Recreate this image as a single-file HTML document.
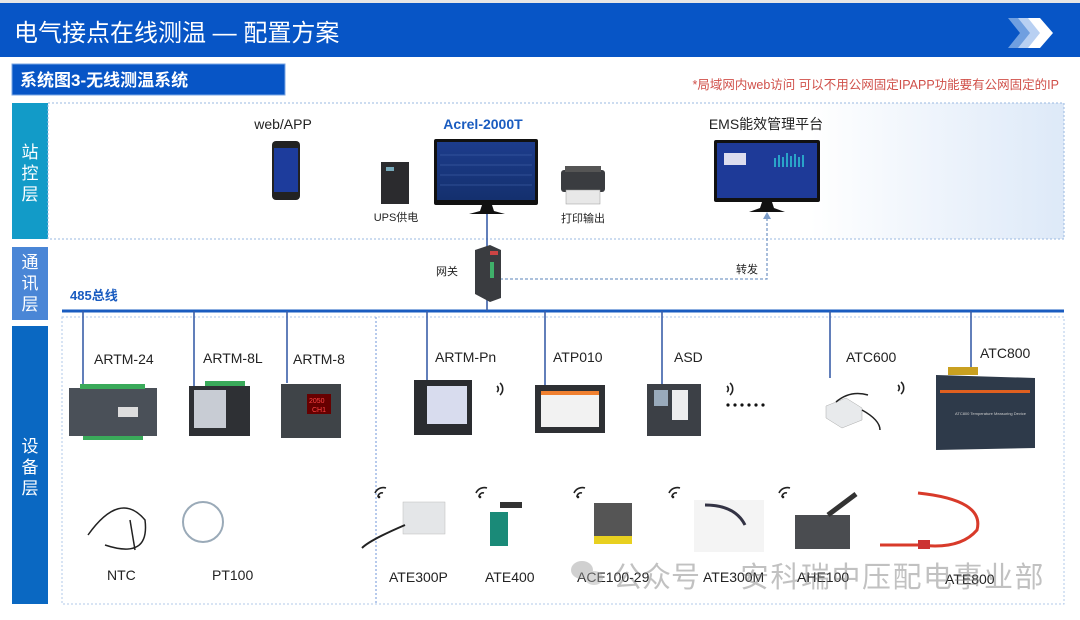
<!DOCTYPE html>
<html><head><meta charset="utf-8"><style>
html,body{margin:0;padding:0;background:#fff;}
svg{display:block;font-family:"Liberation Sans","Noto Sans CJK SC",sans-serif;}
</style></head><body>
<svg width="1080" height="620" viewBox="0 0 1080 620" xmlns="http://www.w3.org/2000/svg">
<defs>
<linearGradient id="g1" x1="0" x2="1" y1="0" y2="0"><stop offset="0.75" stop-color="#fff"/><stop offset="1" stop-color="#dde9f8"/></linearGradient>
<linearGradient id="scr" x1="0" x2="0" y1="0" y2="1"><stop offset="0" stop-color="#1d3c8c"/><stop offset="1" stop-color="#14306e"/></linearGradient>
</defs>
<rect x="0" y="0" width="1080" height="620" fill="#fff"/>
<rect x="0" y="0" width="1080" height="3" fill="#e6e6e6"/>
<!-- title -->
<rect x="0" y="3" width="1080" height="54" fill="#0755c6"/>
<text x="14" y="41" font-size="24" fill="#fff">电气接点在线测温 — 配置方案</text>
<polygon points="1008,18 1020,18 1032,33 1020,48 1008,48 1020,33" fill="#6f9fe0"/>
<polygon points="1018,18 1030,18 1042,33 1030,48 1018,48 1030,33" fill="#b8d0f2"/>
<polygon points="1028,18 1040,18 1053,33 1040,48 1028,48 1040,33" fill="#fff"/>
<!-- subheader -->
<rect x="12" y="64" width="273" height="31" fill="#0755c6" stroke="#7aa6e4" stroke-width="1"/>
<text x="20" y="86" font-size="17" font-weight="bold" fill="#fff">系统图3-无线测温系统</text>
<text x="1059" y="89" font-size="12.5" fill="#d0504a" text-anchor="end">*局域网内web访问 可以不用公网固定IPAPP功能要有公网固定的IP</text>
<!-- layer labels -->
<rect x="12" y="103" width="36" height="136" fill="#129bc8"/>
<rect x="12" y="247" width="36" height="73" fill="#4a86d6"/>
<rect x="12" y="326" width="36" height="278" fill="#0a68c2"/>
<g font-size="17" fill="#fff" text-anchor="middle">
<text x="30" y="158">站</text><text x="30" y="179">控</text><text x="30" y="200">层</text>
<text x="30" y="268">通</text><text x="30" y="289">讯</text><text x="30" y="310">层</text>
<text x="30" y="452">设</text><text x="30" y="473">备</text><text x="30" y="494">层</text>
</g>
<!-- top region -->
<rect x="48" y="103" width="1016" height="136" fill="url(#g1)" stroke="#9ab8e0" stroke-dasharray="2,2"/>
<!-- device region -->
<rect x="62" y="317" width="1002" height="287" fill="none" stroke="#b0c8ea" stroke-dasharray="2,2"/>
<line x1="376" y1="317" x2="376" y2="604" stroke="#6f96d8" stroke-dasharray="2,2"/>
<!-- bus -->
<line x1="62" y1="311" x2="1064" y2="311" stroke="#1a5cc0" stroke-width="3"/>
<g stroke="#3a5fa8" stroke-width="1.6">
<line x1="83" y1="311" x2="83" y2="386"/>
<line x1="194" y1="311" x2="194" y2="386"/>
<line x1="287" y1="311" x2="287" y2="383"/>
<line x1="427" y1="311" x2="427" y2="383"/>
<line x1="545" y1="311" x2="545" y2="385"/>
<line x1="662" y1="311" x2="662" y2="384"/>
<line x1="830" y1="311" x2="830" y2="378"/>
<line x1="971" y1="311" x2="971" y2="372"/>
<line x1="487" y1="212" x2="487" y2="311"/>
</g>
<!-- dashed forward -->
<polyline points="500,279 767,279 767,216" fill="none" stroke="#7b9cc8" stroke-width="1.3" stroke-dasharray="3,2"/>
<polygon points="767,212 763,219 771,219" fill="#7b9cc8"/>
<!-- top labels -->
<text x="283" y="129" font-size="14" fill="#222" text-anchor="middle">web/APP</text>
<text x="483" y="129" font-size="14" font-weight="bold" fill="#1a5cc0" text-anchor="middle">Acrel-2000T</text>
<text x="766" y="129" font-size="14" fill="#222" text-anchor="middle">EMS能效管理平台</text>
<text x="396" y="221" font-size="11" fill="#222" text-anchor="middle">UPS供电</text>
<text x="583" y="222" font-size="11" fill="#222" text-anchor="middle">打印输出</text>
<text x="447" y="275" font-size="11" fill="#222" text-anchor="middle">网关</text>
<text x="747" y="273" font-size="11" fill="#222" text-anchor="middle">转发</text>
<text x="70" y="300" font-size="13" font-weight="bold" fill="#1a5cc0">485总线</text>
<!-- phone -->
<rect x="272" y="141" width="28" height="59" rx="4" fill="#222"/>
<rect x="274" y="148" width="24" height="44" fill="#1d3c9c"/>
<!-- UPS -->
<rect x="381" y="162" width="28" height="42" fill="#2b2b2e"/>
<rect x="386" y="167" width="8" height="4" fill="#7ab"/>
<!-- monitor1 -->
<rect x="434" y="139" width="104" height="66" rx="2" fill="#111"/>
<rect x="437" y="142" width="98" height="58" fill="url(#scr)"/>
<g stroke="#4a6ab0" stroke-width="0.6"><line x1="440" y1="155" x2="532" y2="155"/><line x1="440" y1="165" x2="532" y2="165"/><line x1="440" y1="175" x2="532" y2="175"/><line x1="440" y1="185" x2="532" y2="185"/></g>
<path d="M482 205 L492 205 L494 211 L505 214 L469 214 L480 211 Z" fill="#111"/>
<!-- printer -->
<rect x="561" y="170" width="44" height="22" rx="3" fill="#3a3c40"/>
<rect x="565" y="166" width="36" height="6" fill="#555"/>
<rect x="566" y="190" width="34" height="14" fill="#e8e8e8" stroke="#999" stroke-width="0.5"/>
<!-- monitor2 -->
<rect x="714" y="140" width="106" height="62" rx="2" fill="#111"/>
<rect x="717" y="143" width="100" height="55" fill="#1e3a98"/>
<rect x="724" y="153" width="22" height="12" fill="#dde"/>
<g fill="#2aa4c8"><rect x="774" y="158" width="2" height="9"/><rect x="778" y="155" width="2" height="12"/><rect x="782" y="157" width="2" height="10"/><rect x="786" y="153" width="2" height="14"/><rect x="790" y="156" width="2" height="11"/><rect x="794" y="154" width="2" height="13"/><rect x="798" y="157" width="2" height="10"/><rect x="802" y="155" width="2" height="12"/></g>
<path d="M762 202 L772 202 L774 208 L785 212 L749 212 L760 208 Z" fill="#111"/>
<!-- gateway -->
<polygon points="475,250 490,245 501,250 501,298 490,302 475,294" fill="#3a3c40"/>
<rect x="490" y="262" width="4" height="16" fill="#3fb06a"/>
<rect x="490" y="251" width="8" height="4" fill="#c44"/>
<!-- row1 labels -->
<g font-size="14" fill="#222">
<text x="94" y="364">ARTM-24</text><text x="203" y="363">ARTM-8L</text><text x="293" y="364">ARTM-8</text>
<text x="435" y="362">ARTM-Pn</text><text x="553" y="362">ATP010</text><text x="674" y="362">ASD</text>
<text x="846" y="362">ATC600</text><text x="980" y="358">ATC800</text>
</g>
<!-- row1 devices -->
<rect x="69" y="388" width="88" height="48" fill="#4a5058"/><rect x="80" y="384" width="65" height="5" fill="#3aaa5a"/><rect x="83" y="436" width="60" height="4" fill="#3aaa5a"/><rect x="118" y="407" width="20" height="10" fill="#ddd"/>
<rect x="189" y="386" width="61" height="50" fill="#2e3034"/><rect x="194" y="390" width="32" height="38" fill="#c8ccd4"/><rect x="205" y="381" width="40" height="5" fill="#3aaa5a"/>
<rect x="281" y="384" width="60" height="54" fill="#3f4448"/><rect x="307" y="394" width="24" height="20" fill="#600"/><text x="309" y="403" font-size="7" fill="#f44">2050</text><text x="312" y="412" font-size="7" fill="#f44">CH1</text>
<rect x="414" y="380" width="58" height="55" fill="#2a2c30"/><rect x="427" y="386" width="40" height="38" fill="#d8dcee"/>
<rect x="535" y="385" width="70" height="48" fill="#2e3034"/><rect x="541" y="391" width="58" height="36" fill="#f2f2f2"/><rect x="541" y="391" width="58" height="4" fill="#f08030"/>
<rect x="647" y="384" width="54" height="52" fill="#3c4046"/><rect x="654" y="390" width="14" height="16" fill="#9ab"/><rect x="672" y="390" width="16" height="30" fill="#eee"/>
<g fill="#111"><circle cx="728" cy="405" r="1.6"/><circle cx="735" cy="405" r="1.6"/><circle cx="742" cy="405" r="1.6"/><circle cx="749" cy="405" r="1.6"/><circle cx="756" cy="405" r="1.6"/><circle cx="763" cy="405" r="1.6"/></g>
<polygon points="826,406 846,398 862,408 862,420 842,428 826,418" fill="#e8eaec" stroke="#aaa" stroke-width="0.5"/>
<path d="M836 402 Q850 390 868 395 M862 410 Q880 420 880 430" stroke="#222" fill="none" stroke-width="1.5"/>
<polygon points="936,375 1035,378 1035,448 936,450" fill="#2e3a4a"/><rect x="948" y="367" width="30" height="8" fill="#c9a020"/><rect x="940" y="390" width="90" height="3" fill="#e06020"/>
<text x="955" y="415" font-size="4" fill="#ccc">ATC800 Temperature Measuring Device</text>
<!-- wifi symbols -->
<g fill="none" stroke="#222" stroke-width="1.6">
<path d="M497 386 a4 4 0 0 1 0 6 M500 383 a8 8 0 0 1 0 12"/>
<path d="M727 386 a4 4 0 0 1 0 6 M730 383 a8 8 0 0 1 0 12"/>
<path d="M898 385 a4 4 0 0 1 0 6 M901 382 a8 8 0 0 1 0 12"/>
</g>
<g fill="none" stroke="#222" stroke-width="1.6">
<path d="M378 497 a4 4 0 0 1 5 -4 M375 493 a9 9 0 0 1 11 -5"/>
<path d="M479 497 a4 4 0 0 1 5 -4 M476 493 a9 9 0 0 1 11 -5"/>
<path d="M577 497 a4 4 0 0 1 5 -4 M574 493 a9 9 0 0 1 11 -5"/>
<path d="M672 497 a4 4 0 0 1 5 -4 M669 493 a9 9 0 0 1 11 -5"/>
<path d="M782 497 a4 4 0 0 1 5 -4 M779 493 a9 9 0 0 1 11 -5"/>
</g>
<g fill="#222"><circle cx="379" cy="497" r="1.3"/><circle cx="480" cy="497" r="1.3"/><circle cx="578" cy="497" r="1.3"/><circle cx="673" cy="497" r="1.3"/><circle cx="783" cy="497" r="1.3"/></g>
<!-- row2 devices -->
<path d="M88 535 Q120 490 145 520 Q150 560 105 545 M130 520 L135 550" stroke="#222" fill="none" stroke-width="1.5"/>
<circle cx="203" cy="522" r="20" fill="none" stroke="#9aaab8" stroke-width="2"/>
<rect x="403" y="502" width="42" height="32" fill="#e4e6e8" stroke="#bbb" stroke-width="0.5"/>
<path d="M405 525 Q370 540 362 548" stroke="#222" fill="none" stroke-width="2"/>
<rect x="490" y="512" width="18" height="34" fill="#1a8a78"/><rect x="500" y="502" width="22" height="6" fill="#333"/>
<rect x="594" y="503" width="38" height="38" fill="#555"/><rect x="594" y="536" width="38" height="8" fill="#e8d020"/>
<rect x="694" y="500" width="70" height="52" fill="#f4f4f4"/><path d="M705 505 Q735 505 745 525" stroke="#334" fill="none" stroke-width="3"/>
<rect x="795" y="515" width="55" height="34" fill="#4a4c50"/><line x1="828" y1="515" x2="856" y2="494" stroke="#333" stroke-width="5"/>
<path d="M918 493 Q985 500 977 530 Q960 550 920 545 L880 545" stroke="#d83a2a" fill="none" stroke-width="3"/><rect x="918" y="540" width="12" height="9" fill="#c33"/>
<!-- row2 labels -->
<g font-size="14" fill="#222">
<text x="107" y="580">NTC</text><text x="212" y="580">PT100</text>
<text x="389" y="582">ATE300P</text><text x="485" y="582">ATE400</text><text x="577" y="582">ACE100-29</text>
<text x="703" y="582">ATE300M</text><text x="797" y="582">AHE100</text><text x="945" y="584">ATE800</text>
</g>
<!-- watermark -->
<g opacity="0.45">
<ellipse cx="582" cy="570" rx="11" ry="9" fill="#999"/><ellipse cx="594" cy="578" rx="9" ry="7" fill="#aaa"/>
<text x="613" y="587" font-size="29" fill="#777">公众号</text>
<text x="740" y="587" font-size="29" fill="#777" letter-spacing="1.5">安科瑞中压配电事业部</text>
</g>
</svg>
</body></html>
